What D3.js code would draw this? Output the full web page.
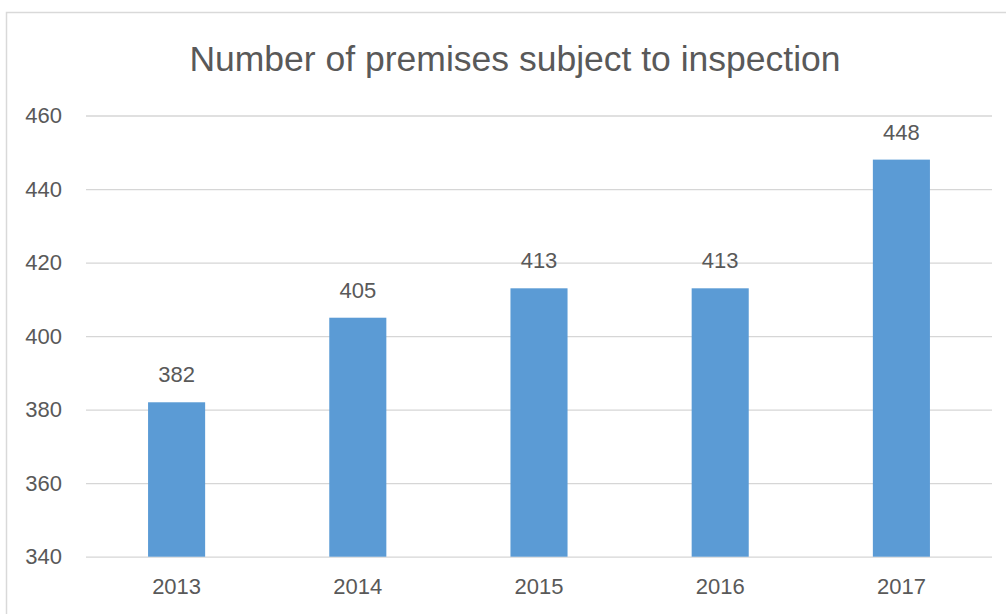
<!DOCTYPE html>
<html>
<head>
<meta charset="utf-8">
<script src="https://cdn.jsdelivr.net/npm/d3@7"></script>
<style>
  html, body { margin: 0; padding: 0; background: #fff; }
  svg { display: block; }
  text { font-family: Arial, "Liberation Sans", sans-serif; fill: #595959; }
</style>
</head>
<body>
<svg id="chart" width="1006" height="614"></svg>
<script>
// Premises subject to inspection, per year
const years = ["2013", "2014", "2015", "2016", "2017"];
const premises = [382, 405, 413, 413, 448];
const yTicks = [340, 360, 380, 400, 420, 440, 460];
const title = "Number of premises subject to inspection";

const svg = d3.select("#chart");
const W = 1006, H = 614;
const plot = { left: 86, right: 992, top: 115.5, bottom: 556.7 };

// chart frame
svg.append("rect")
  .attr("x", 6.5).attr("y", 12.5)
  .attr("width", W + 10).attr("height", H + 10)
  .attr("fill", "none").attr("stroke", "#d9d9d9").attr("stroke-width", 1.5);

const x = d3.scaleBand().domain(years)
  .range([plot.left, plot.right]).paddingInner(0.685).paddingOuter(0.3425);
const y = d3.scaleLinear().domain([340, 460]).range([plot.bottom, plot.top]);

// gridlines + y labels
const yAxis = d3.axisLeft(y).tickValues(yTicks)
  .tickSize(-(plot.right - plot.left)).tickPadding(24).tickFormat(d3.format("d"));
const gy = svg.append("g").attr("transform", `translate(${plot.left},0)`).call(yAxis);
gy.select(".domain").remove();
gy.selectAll(".tick line").attr("stroke", "#d6d6d6").attr("stroke-width", 1.3);
gy.selectAll(".tick text").attr("font-size", 22).attr("fill", "#595959")
  .attr("font-family", "Arial, 'Liberation Sans', sans-serif");

// bars
svg.append("g").selectAll("rect").data(years).join("rect")
  .attr("x", d => x(d))
  .attr("width", x.bandwidth())
  .attr("y", (d, i) => y(premises[i]))
  .attr("height", (d, i) => y(340) - y(premises[i]))
  .attr("fill", "#5b9bd5");

// value labels
svg.append("g").selectAll("text").data(years).join("text")
  .attr("x", d => x(d) + x.bandwidth() / 2)
  .attr("y", (d, i) => y(premises[i]) - 20)
  .attr("text-anchor", "middle")
  .attr("font-size", 22)
  .text((d, i) => premises[i]);

// x labels
const xAxis = d3.axisBottom(x).tickSize(0).tickPadding(22);
const gx = svg.append("g").attr("transform", `translate(0,${plot.bottom})`).call(xAxis);
gx.select(".domain").remove();
gx.selectAll(".tick text").attr("font-size", 22).attr("fill", "#595959")
  .attr("font-family", "Arial, 'Liberation Sans', sans-serif");

// title
svg.append("text")
  .attr("x", 515).attr("y", 71)
  .attr("text-anchor", "middle")
  .attr("font-size", 35.5)
  .text(title);
</script>
</body>
</html>
